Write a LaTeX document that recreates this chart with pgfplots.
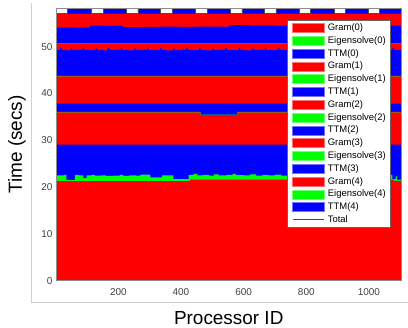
\documentclass[border=0pt]{standalone}
\usepackage{pgfplots}
\pgfplotsset{compat=1.18}
\usepackage{fontspec}
\setmainfont{Liberation Sans}
\definecolor{mred}{rgb}{1,0,0}
\definecolor{mgreen}{rgb}{0,1,0}
\definecolor{mblue}{rgb}{0,0,1}
\definecolor{tickgray}{gray}{0.25}
\pgfplotsset{
 legred/.style={legend image code/.code={\path[draw=mred!55!white,fill=mred,line width=0.6bp] (0bp,-4.5bp) rectangle (31.4bp,4.5bp);}},
 leggreen/.style={legend image code/.code={\path[draw=mgreen!55!white,fill=mgreen,line width=0.6bp] (0bp,-4.5bp) rectangle (31.4bp,4.5bp);}},
 legblue/.style={legend image code/.code={\path[draw=mblue!55!white,fill=mblue,line width=0.6bp] (0bp,-4.5bp) rectangle (31.4bp,4.5bp);}},
 legline/.style={legend image code/.code={\draw[black!70,line width=0.6bp] (0bp,0bp) -- (31.4bp,0bp);}},
 band/.style={const plot mark left, draw=none, fill=#1, forget plot},
}
% cumulative tops of the stacked layers (Time in secs vs processor ID)
\pgfplotstableread{
p t
1 57.15
37 59
112 57.15
153 59
225 57.15
262 59
335 57.15
372 59
447 57.15
484 59
557 57.15
594 59
666 57.15
703 59
778 57.15
813 59
888 57.15
925 59
999 57.15
1034 59
1104 59
}\ttmfour
\pgfplotstableread{
p t
1 54.1
30 54.15
60 54.05
110 54.5
150 54.45
215 54.2
270 54.25
330 54.3
400 54.25
450 54.3
553 54.6
620 54.55
700 54.5
900 54.5
1104 54.5
}\ttmthree
\pgfplotstableread{
p t
1 49.3
14 49.75
19 49.3
33 49.2
47 49.65
52 49.3
70 49.4
86 49.8
91 49.3
108 49.25
127 49.6
133 49.3
150 49.2
166 49.7
171 49.3
190 49.4
208 49.75
213 49.3
232 49.2
250 49.65
255 49.3
275 49.35
292 49.8
297 49.3
316 49.25
333 49.7
338 49.3
356 49.2
374 49.65
379 49.3
398 49.4
416 49.8
421 49.3
440 49.25
458 49.7
463 49.3
482 49.2
500 49.65
505 49.3
524 49.35
542 49.75
547 49.3
566 49.25
584 49.7
589 49.3
608 49.2
626 49.65
631 49.3
650 49.4
668 49.8
673 49.3
692 49.25
710 49.7
715 49.3
735 49.3
1060 49.3
1075 49.7
1080 49.3
1104 49.3
}\ttmtwo
\pgfplotstableread{
p t
1 35.97
463 35.4
580 35.97
1104 35.97
}\gramone
\pgfplotstableread{
p t
1 36.05
463 35.48
580 36.05
1104 36.05
}\eigone
\pgfplotstableread{
p t
1 22.5
28 22.6
34 21.5
61 22.6
75 22.5
88 21.9
99 22.5
115 22.6
125 22.45
145 22.5
160 22.4
184 22.45
205 22.6
215 22.4
235 22.5
255 22.45
270 22.65
302 22.1
340 22.5
376 21.7
424 22.6
440 22.8
452 22.5
470 22.6
490 22.45
505 22.7
520 22.5
545 22.6
565 22.8
575 22.55
600 22.5
620 22.7
640 22.45
660 22.6
680 22.5
700 22.65
720 22.45
745 22.5
1060 22.6
1075 21.7
1085 22.3
1090 21.6
1104 21.6
}\eigzero
\pgfplotstableread{
p t
1 21.3
428 21.6
1080 21.35
1104 21.35
}\gramzero
\begin{document}
\begin{tikzpicture}
\path[use as bounding box] (-56bp,-47.3bp) rectangle (352bp,280.7bp);
\draw[black!18, line width=0.8bp] (-25bp,277.5bp) -- (-25bp,-21.8bp) -- (352bp,-21.8bp);
\begin{axis}[
  scale only axis, width=345.5bp, height=272.7bp,
  xmin=1, xmax=1104, ymin=0, ymax=58.27,
  xtick={200,400,600,800,1000}, ytick={0,10,20,30,40,50},
  major tick length=0pt,
  axis on top,
  axis line style={draw=black!45, line width=0.5bp},
  tick label style={font=\fontsize{10}{12}\selectfont, text=tickgray},
  /pgf/number format/assume math mode=true,
  /pgf/number format/1000 sep={},
  xticklabel style={anchor=center, yshift=-11.6bp},
  xlabel={Processor ID}, ylabel={Time (secs)},
  label style={font=\fontsize{19}{22}\selectfont},
  xlabel style={at={(axis description cs:0.5,-0.1386)}, anchor=center},
  ylabel style={at={(axis description cs:-0.1129,0.5)}, anchor=center, rotate=0},
  legend cell align=left,
  legend style={at={(0.6686,0.956)}, anchor=north west, draw=black!60, line width=0.5bp, fill=white,
    font=\fontsize{9.5}{11}\selectfont, inner xsep=5bp, inner ysep=3bp, row sep=3.2bp, column sep=3.6bp,
    nodes={inner sep=0bp, text height=7bp, text depth=2bp}},
]
% layers drawn from the top of the stack downwards
\addplot[band=mblue] table[x=p,y=t]{\ttmfour} \closedcycle;
\addplot[band=mgreen] coordinates {(1,57.03) (1104,57.03)} \closedcycle;
\addplot[band=mred] coordinates {(1,56.98) (1104,56.98)} \closedcycle;
\addplot[band=mblue] table[x=p,y=t]{\ttmthree} \closedcycle;
\addplot[band=mgreen] coordinates {(1,50.7) (1104,50.7)} \closedcycle;
\addplot[band=mred] coordinates {(1,50.64) (1104,50.64)} \closedcycle;
\addplot[band=mblue] table[x=p,y=t]{\ttmtwo} \closedcycle;
\addplot[band=mgreen] coordinates {(1,43.76) (1104,43.76)} \closedcycle;
\addplot[band=mred] coordinates {(1,43.67) (1104,43.67)} \closedcycle;
\addplot[band=mblue] coordinates {(1,37.82) (1104,37.82)} \closedcycle;
\addplot[band=mgreen] table[x=p,y=t]{\eigone} \closedcycle;
\addplot[band=mred] table[x=p,y=t]{\gramone} \closedcycle;
\addplot[band=mblue] coordinates {(1,29.05) (1104,29.05)} \closedcycle;
\addplot[band=mgreen] table[x=p,y=t]{\eigzero} \closedcycle;
\addplot[band=mred] table[x=p,y=t]{\gramzero} \closedcycle;
\addplot[const plot mark left, black!70, line width=0.5bp, forget plot] table[x=p,y=t]{\ttmfour};
% legend
\addlegendimage{legred}\addlegendentry{Gram(0)}
\addlegendimage{leggreen}\addlegendentry{Eigensolve(0)}
\addlegendimage{legblue}\addlegendentry{TTM(0)}
\addlegendimage{legred}\addlegendentry{Gram(1)}
\addlegendimage{leggreen}\addlegendentry{Eigensolve(1)}
\addlegendimage{legblue}\addlegendentry{TTM(1)}
\addlegendimage{legred}\addlegendentry{Gram(2)}
\addlegendimage{leggreen}\addlegendentry{Eigensolve(2)}
\addlegendimage{legblue}\addlegendentry{TTM(2)}
\addlegendimage{legred}\addlegendentry{Gram(3)}
\addlegendimage{leggreen}\addlegendentry{Eigensolve(3)}
\addlegendimage{legblue}\addlegendentry{TTM(3)}
\addlegendimage{legred}\addlegendentry{Gram(4)}
\addlegendimage{leggreen}\addlegendentry{Eigensolve(4)}
\addlegendimage{legblue}\addlegendentry{TTM(4)}
\addlegendimage{legline}\addlegendentry{Total}
\end{axis}
\end{tikzpicture}
\end{document}
